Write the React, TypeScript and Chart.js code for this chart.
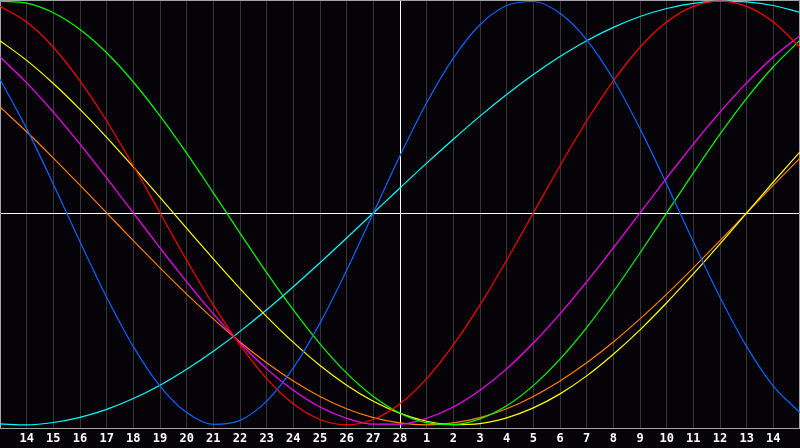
import React, { useEffect, useRef } from 'react';
import { Chart, registerables } from 'chart.js';

Chart.register(...registerables);

// day labels, 13th of the previous month to the 15th
const days = [
   '13', '14', '15', '16', '17', '18', '19', '20', '21', '22', '23', '24', '25', '26', '27', '28',
   '1', '2', '3', '4', '5', '6', '7', '8', '9', '10', '11', '12', '13', '14', '15',
];

// cycle values in percent, one per day
const physical = [63.1, 39.8, 13.6, -13.6, -39.8, -63.1, -81.7, -94.2, -99.8, -97.9, -88.8, -73.1, -52.0, -27.0, 0, 27.0, 52.0, 73.1, 88.8, 97.9, 99.8, 94.2, 81.7, 63.1, 39.8, 13.6, -13.6, -39.8, -63.1, -81.7, -94.2];
const emotional = [97.5, 90.1, 78.2, 62.3, 43.4, 22.3, 0, -22.3, -43.4, -62.3, -78.2, -90.1, -97.5, -100, -97.5, -90.1, -78.2, -62.3, -43.4, -22.3, 0, 22.3, 43.4, 62.3, 78.2, 90.1, 97.5, 100, 97.5, 90.1, 78.2];
const intellectual = [99.9, 99.0, 94.5, 86.6, 75.6, 61.8, 45.8, 28.2, 9.5, -9.5, -28.2, -45.8, -61.8, -75.6, -86.6, -94.5, -99.0, -99.9, -97.2, -91.0, -81.5, -69.0, -54.1, -37.2, -18.9, 0, 18.9, 37.2, 54.1, 69.0, 81.5];
const intuitive = [73.6, 61.4, 47.6, 32.5, 16.5, 0, -16.5, -32.5, -47.6, -61.4, -73.6, -83.7, -91.6, -96.9, -99.7, -99.7, -96.9, -91.6, -83.7, -73.6, -61.4, -47.6, -32.5, -16.5, 0, 16.5, 32.5, 47.6, 61.4, 73.6, 83.7];
const aesthetic = [81.3, 72.0, 61.1, 48.9, 35.7, 21.7, 7.3, -7.3, -21.7, -35.7, -48.9, -61.1, -72.0, -81.3, -88.9, -94.6, -98.3, -99.9, -99.4, -96.7, -92.0, -85.4, -76.9, -66.7, -55.2, -42.4, -28.8, -14.6, 0, 14.6, 28.8];
const awareness = [50.0, 38.3, 25.9, 13.1, 0, -13.1, -25.9, -38.3, -50.0, -60.9, -70.7, -79.3, -86.6, -92.4, -96.6, -99.1, -100, -99.1, -96.6, -92.4, -86.6, -79.3, -70.7, -60.9, -50.0, -38.3, -25.9, -13.1, 0, 13.1, 25.9];
const spiritual = [-99.6, -100, -98.9, -96.5, -92.7, -87.6, -81.3, -73.8, -65.3, -55.9, -45.7, -34.8, -23.5, -11.8, 0, 11.8, 23.5, 34.8, 45.7, 55.9, 65.3, 73.8, 81.3, 87.6, 92.7, 96.5, 98.9, 100, 99.6, 97.9, 94.7];

const todayIndex = 15;

// light frame round the plot and the white zero line
const framePlugin = {
   id: 'frame',
   beforeDatasetsDraw(chart: any) {
      const { ctx, chartArea } = chart;
      const zeroY = Math.round(chart.scales.y.getPixelForValue(0)) + 0.5;
      ctx.save();
      ctx.lineWidth = 1;
      ctx.strokeStyle = '#ffffff';
      ctx.beginPath();
      ctx.moveTo(chartArea.left, zeroY);
      ctx.lineTo(chartArea.right, zeroY);
      ctx.stroke();
      ctx.strokeStyle = '#a4a4a4';
      ctx.strokeRect(
         chartArea.left + 0.5,
         chartArea.top + 0.5,
         chartArea.right - chartArea.left - 1,
         chartArea.bottom - chartArea.top
      );
      ctx.restore();
   },
};

const BioChart = () => {
   const canvasRef = useRef<HTMLCanvasElement | null>(null);

   useEffect(() => {
      if (!canvasRef.current) {
         return;
      }

      const line = (data: number[], color: string) => ({
         data,
         borderColor: color,
         borderWidth: 1.2,
         pointRadius: 0,
         cubicInterpolationMode: 'monotone',
         fill: false,
      });

      const chart = new Chart(canvasRef.current, {
         type: 'line',
         data: {
            labels: days,
            datasets: [
               line(physical, '#0a64ff'),
               line(emotional, '#ff0000'),
               line(intellectual, '#00ff00'),
               line(intuitive, '#ff00ff'),
               line(aesthetic, '#ffff00'),
               line(awareness, '#ff8000'),
               line(spiritual, '#00ffff'),
            ],
         },
         options: {
            animation: false,
            responsive: true,
            maintainAspectRatio: false,
            events: [],
            layout: { padding: 0 },
            plugins: {
               legend: { display: false },
               tooltip: { enabled: false },
            },
            scales: {
               x: {
                  offset: false,
                  afterFit: (scale: any) => {
                     scale.height = 20;
                     scale.paddingLeft = 0;
                     scale.paddingRight = 0;
                  },
                  border: { display: false },
                  grid: {
                     drawTicks: false,
                     lineWidth: 1,
                     color: (c: any) =>
                        c.index === todayIndex
                           ? '#ffffff'
                           : c.index === 0 || c.index === days.length - 1
                           ? 'rgba(0,0,0,0)'
                           : '#363636',
                  },
                  ticks: {
                     autoSkip: false,
                     maxRotation: 0,
                     padding: 4,
                     color: '#ffffff',
                     font: { family: 'DejaVu Sans Mono', weight: 'bold', size: 12 },
                     callback: (_v: any, i: number) =>
                        i === 0 || i === days.length - 1 ? '' : days[i],
                  },
               },
               y: {
                  display: false,
                  min: -101.5,
                  max: 100.5,
               },
            },
         },
         plugins: [framePlugin],
      } as any);

      return () => {
         chart.destroy();
      };
   }, []);

   return <canvas ref={canvasRef} />;
};

export default function App() {
   return (
      <div
         style={{
            position: 'fixed',
            left: 0,
            top: 0,
            width: 800,
            height: 448,
            background: '#050308',
         }}
      >
         <BioChart />
      </div>
   );
}
